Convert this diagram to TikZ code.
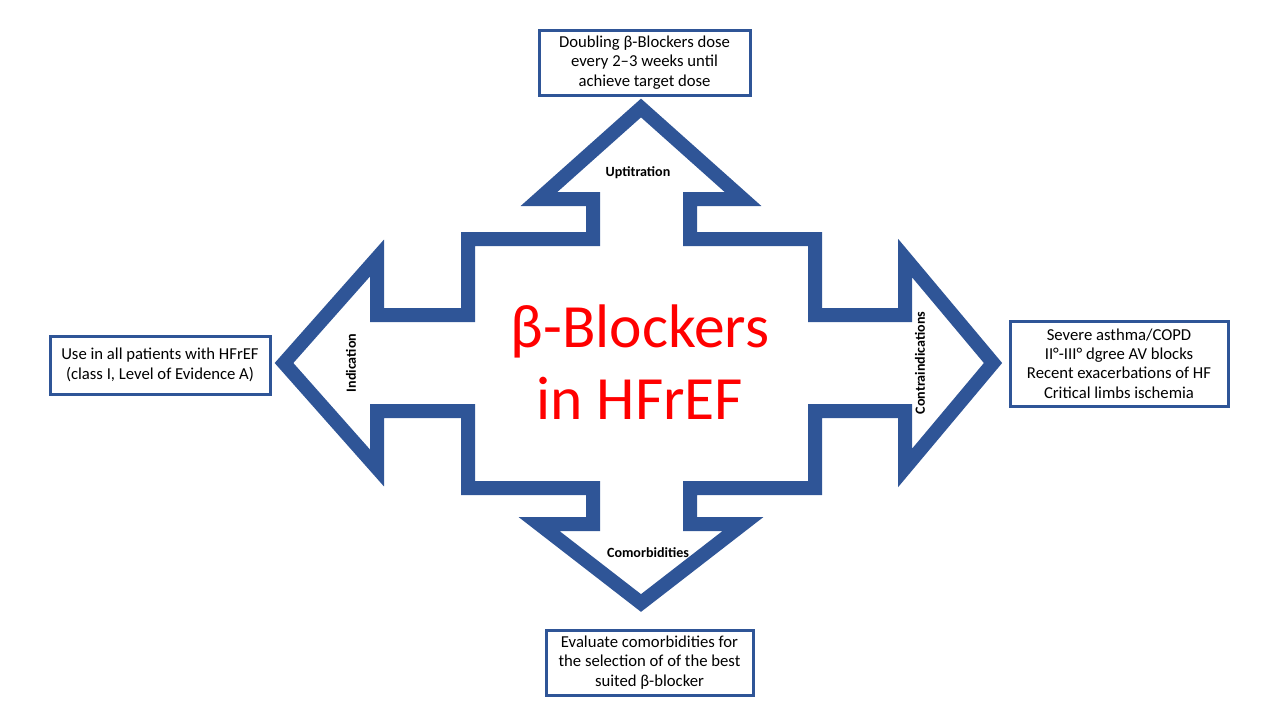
\documentclass[tikz,border=0pt]{standalone}
\usepackage{fontspec}
\setmainfont{Carlito}
\begin{document}
\begin{tikzpicture}[x=0.02cm,y=-0.02cm,
  crossline/.style={draw=bl,line width=14*0.02cm,line join=miter},
  tbox/.style={draw=bl,line width=3*0.02cm,align=center,font=\fontsize{9.5}{11}\selectfont,inner sep=0pt},
  lbl/.style={font=\bfseries\fontsize{8}{9}\selectfont}]
\definecolor{bl}{HTML}{2F5597}
\useasboundingbox (0,0) rectangle (1280,720);
\draw[crossline] (641,108) -- (743,199) -- (690,199) -- (690,239) -- (815,239) -- (815,315) -- (905,315) -- (905,258) -- (993,363) -- (905,468) -- (905,411) -- (815,411) -- (815,488) -- (690,488) -- (690,524) -- (743,524) -- (641,603) -- (539,524) -- (593,524) -- (593,488) -- (468,488) -- (468,411) -- (377,411) -- (377,468) -- (284,363) -- (377,258) -- (377,315) -- (468,315) -- (468,239) -- (593,239) -- (593,199) -- (539,199) -- cycle;
\node[tbox,minimum width=211*0.02cm,minimum height=65*0.02cm] (top) at (644.5,62.5) {Doubling β-Blockers dose\\every 2–3 weeks until\\achieve target dose};
\node[tbox,minimum width=220*0.02cm,minimum height=58*0.02cm] (left) at (160,365) {Use in all patients with HFrEF\\(class I, Level of Evidence A)};
\node[tbox,minimum width=218*0.02cm,minimum height=85*0.02cm] (right) at (1119,363.5) {Severe asthma/COPD\\II°-III° dgree AV blocks\\Recent exacerbations of HF\\Critical limbs ischemia};
\node[tbox,minimum width=207*0.02cm,minimum height=65*0.02cm] (bot) at (649.5,662.5) {Evaluate comorbidities for\\the selection of of the best\\suited β-blocker};
\node[text=red,align=center,font=\fontsize{35}{41}\selectfont] (title) at (640,362) {β-Blockers\\in HFrEF};
\node[lbl] (l1) at (638,173) {Uptitration};
\node[lbl,rotate=90] (l2) at (351,363) {Indication};
\node[lbl,rotate=90] (l3) at (920,363) {Contraindications};
\node[lbl] (l4) at (648,553) {Comorbidities};
\end{tikzpicture}
\end{document}
